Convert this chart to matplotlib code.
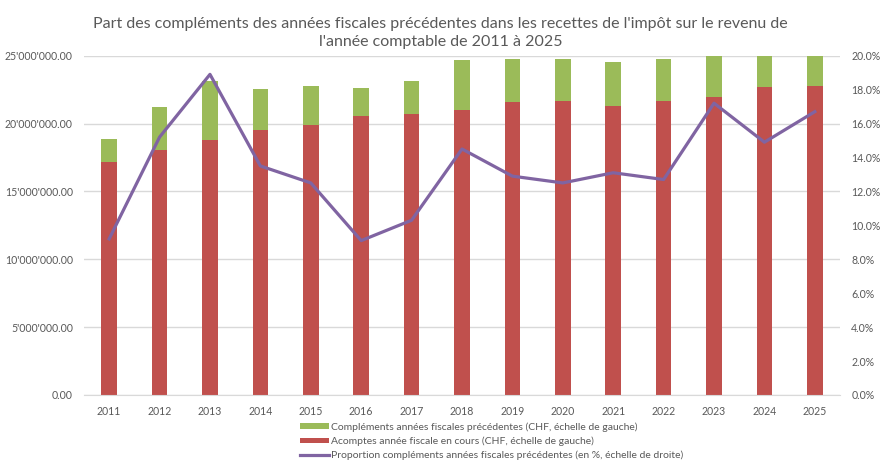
import numpy as np
import matplotlib
matplotlib.use("Agg")
import matplotlib.pyplot as plt
from matplotlib.ticker import FuncFormatter

plt.rcParams['font.family'] = ['Lato', 'DejaVu Sans']

years = ['2011', '2012', '2013', '2014', '2015', '2016', '2017', '2018',
         '2019', '2020', '2021', '2022', '2023', '2024', '2025']
# acomptes annee fiscale en cours (CHF)
acomptes = [17.14e6, 18.02e6, 18.80e6, 19.49e6, 19.88e6, 20.52e6, 20.71e6, 20.99e6,
            21.58e6, 21.63e6, 21.28e6, 21.63e6, 21.92e6, 22.66e6, 22.78e6]
# complements annees fiscales precedentes (CHF)
complements = [1.71e6, 3.19e6, 4.37e6, 3.06e6, 2.85e6, 2.09e6, 2.41e6, 3.66e6,
               3.19e6, 3.09e6, 3.22e6, 3.14e6, 4.55e6, 3.97e6, 4.57e6]
# proportion des complements (%)
proportion = [9.2, 15.2, 18.9, 13.5, 12.5, 9.1, 10.3, 14.5,
              12.9, 12.5, 13.1, 12.7, 17.2, 14.9, 16.7]

red = '#C0504D'
green = '#9BBB59'
purple = '#8064A2'
grey = '#595959'
tick_size = 7.6

fig = plt.figure(figsize=(8.81, 4.61), dpi=100)
ax = fig.add_axes([0.0953, 0.1432, 0.8582, 0.736])
x = np.arange(len(years))

b_red = ax.bar(x, acomptes, width=0.31, color=red, zorder=2,
               label='Acomptes année fiscale en cours (CHF, échelle de gauche)')
b_green = ax.bar(x, complements, width=0.31, bottom=acomptes, color=green, zorder=2,
                 label='Compléments années fiscales précédentes (CHF, échelle de gauche)')

ax.set_xlim(-0.5, len(years) - 0.5)
ax.set_ylim(0, 25e6)
ax.set_yticks(np.arange(0, 25e6 + 1, 5e6))
ax.yaxis.set_major_formatter(FuncFormatter(lambda v, p: f"{v:,.2f}".replace(',', "'")))
ax.set_xticks(x)
ax.set_xticklabels(years)
ax.grid(axis='y', color='#D9D9D9', linewidth=1, zorder=0)
for s in ['top', 'right', 'left']:
    ax.spines[s].set_visible(False)
ax.spines['bottom'].set_color('#D9D9D9')
ax.tick_params(axis='both', length=0, labelsize=tick_size, colors=grey)
ax.tick_params(axis='y', pad=8)
ax.tick_params(axis='x', pad=8)

ax2 = ax.twinx()
l_prop, = ax2.plot(x, proportion, color=purple, linewidth=2.3,
                   label='Proportion compléments années fiscales précédentes (en %, échelle de droite)')
ax2.set_ylim(0, 20)
ax2.set_yticks(np.arange(0, 21, 2))
ax2.yaxis.set_major_formatter(FuncFormatter(lambda v, p: f"{v:.1f}%"))
for s in ax2.spines.values():
    s.set_visible(False)
ax2.tick_params(axis='y', length=0, labelsize=tick_size, colors=grey, pad=8)

fig.text(0.5, 0.963, "Part des compléments des années fiscales précédentes dans les recettes de l'impôt sur le revenu de\n"
         "l'année comptable de 2011 à 2025", ha='center', va='top', fontsize=11.5,
         color=grey, linespacing=1.35)

leg = fig.legend(handles=[b_green, b_red, l_prop], loc='upper left',
                 bbox_to_anchor=(0.341, 0.084), frameon=False, fontsize=7.5,
                 handlelength=2.7, handleheight=0.45, handletextpad=0.2,
                 labelspacing=0.45, borderaxespad=0, borderpad=0)
for t in leg.get_texts():
    t.set_color(grey)

fig.savefig('out.png', dpi=100)
